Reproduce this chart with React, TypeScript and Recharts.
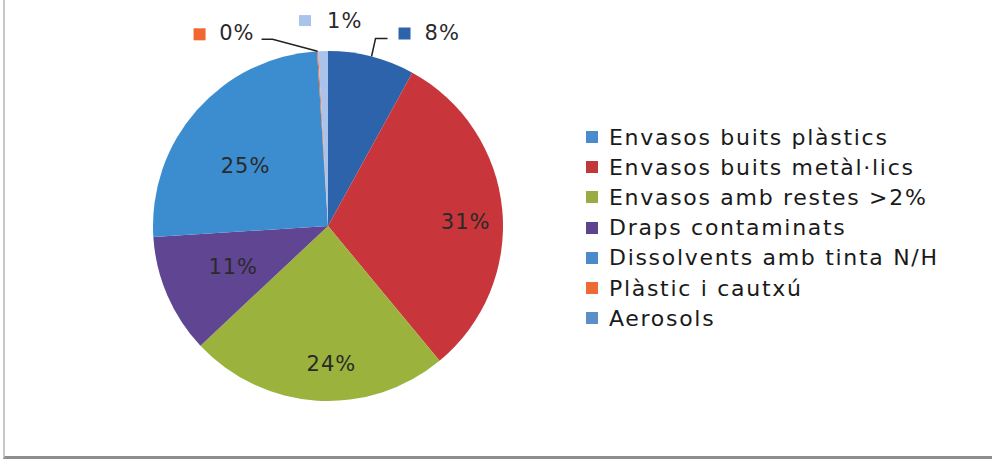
import React from 'react';
import { PieChart, Pie, Cell, Legend } from 'recharts';

const categories = [
  'Envasos buits plàstics',
  'Envasos buits metàl·lics',
  'Envasos amb restes >2%',
  'Draps contaminats',
  'Dissolvents amb tinta N/H',
  'Plàstic i cautxú',
  'Aerosols',
];
const values = [8, 31, 24, 11, 25, 0.1, 0.9];
const colors = ['#2d63aa', '#c8353a', '#9bb23c', '#5f4592', '#3b8dd0', '#f0672f', '#a9c3ea'];
const legendColors = ['#4c8bc9', '#c0383c', '#98ab44', '#5c438c', '#4c8bc9', '#ee6a32', '#5b8fc9'];

const data = categories.map((name, i) => ({ name, value: values[i] }));

const RAD = Math.PI / 180;
const FONT = '"DejaVu Sans", sans-serif';

const insideFactor: Record<number, number> = { 1: 0.79, 2: 0.78, 3: 0.59, 4: 0.59 };
const insideNudge: Record<number, [number, number]> = { 1: [0, 9], 2: [12, 2], 3: [0, 0], 4: [-5, 8] };

const labelStyle = { fontSize: 21, fontFamily: FONT, letterSpacing: 1 } as const;

const renderLabel = (props: any) => {
  const { cx, cy, midAngle, outerRadius, percent, index } = props;
  const text = `${Math.round(percent * 100)}%`;
  const cos = Math.cos(-midAngle * RAD);
  const sin = Math.sin(-midAngle * RAD);
  if (insideFactor[index] !== undefined) {
    const r = outerRadius * insideFactor[index];
    const [nx, ny] = insideNudge[index];
    return (
      <text x={cx + r * cos + nx} y={cy + r * sin + ny} textAnchor="middle" dominantBaseline="central"
        fill="#2a2a2a" style={labelStyle}>{text}</text>
    );
  }
  const ex = cx + outerRadius * cos;
  const ey = cy + outerRadius * sin;
  if (index === 0) {
    return (
      <g>
        <polyline points={`${ex},${ey} ${ex + 4},${ey - 18} ${ex + 16},${ey - 18}`} fill="none" stroke="#222" strokeWidth={1.5} />
        <rect x={ex + 27} y={ey - 29} width={12} height={12} fill={colors[0]} />
        <text x={ex + 53} y={ey - 23} dominantBaseline="central" fill="#2a2a2a" style={labelStyle}>{text}</text>
      </g>
    );
  }
  if (index === 5) {
    return (
      <g>
        <polyline points={`${ex},${ey} ${ex - 45},${ey - 12} ${ex - 56},${ey - 12}`} fill="none" stroke="#222" strokeWidth={1.5} />
        <rect x={ex - 124} y={ey - 23} width={12} height={12} fill={colors[5]} />
        <text x={ex - 63} y={ey - 18} textAnchor="end" dominantBaseline="central" fill="#2a2a2a" style={labelStyle}>{text}</text>
      </g>
    );
  }
  return (
    <g>
      <rect x={ex - 24} y={ey - 36} width={12} height={11} fill={colors[6]} />
      <text x={ex + 4} y={ey - 30} dominantBaseline="central" fill="#2a2a2a" style={labelStyle}>{text}</text>
    </g>
  );
};

const renderLegend = () => (
  <div style={{ fontFamily: FONT }}>
    {categories.map((name, i) => (
      <div key={name} style={{ display: 'flex', alignItems: 'center', height: 30.2, fontSize: 22, letterSpacing: 1.7, color: '#1a1a1a', whiteSpace: 'nowrap' }}>
        <span style={{ display: 'inline-block', width: 12, height: 12, background: legendColors[i], marginRight: 11 }} />
        <span>{name}</span>
      </div>
    ))}
  </div>
);

export default function App() {
  return (
    <div style={{ position: 'absolute', left: 0, top: 0, width: 992, height: 462, background: '#fff' }}>
      <div style={{ position: 'absolute', left: 3, top: 0, width: 989, height: 459, borderLeft: '2px solid #c8c8c8', borderBottom: '3px solid #8e8e8e', boxSizing: 'border-box' }} />
      <div style={{ position: 'absolute', left: 0, top: 0 }}>
        <PieChart width={992} height={462} margin={{ top: 0, right: 0, bottom: 0, left: 0 }}>
          <Pie
            data={data}
            dataKey="value"
            nameKey="name"
            cx={328}
            cy={226}
            outerRadius={175}
            startAngle={90}
            endAngle={-270}
            stroke="none"
            label={renderLabel}
            labelLine={false}
            isAnimationActive={false}
          >
            {data.map((d, i) => (
              <Cell key={d.name} fill={colors[i]} />
            ))}
          </Pie>
          <Legend content={renderLegend} wrapperStyle={{ left: 586, top: 122, width: 400 }} />
        </PieChart>
      </div>
    </div>
  );
}
